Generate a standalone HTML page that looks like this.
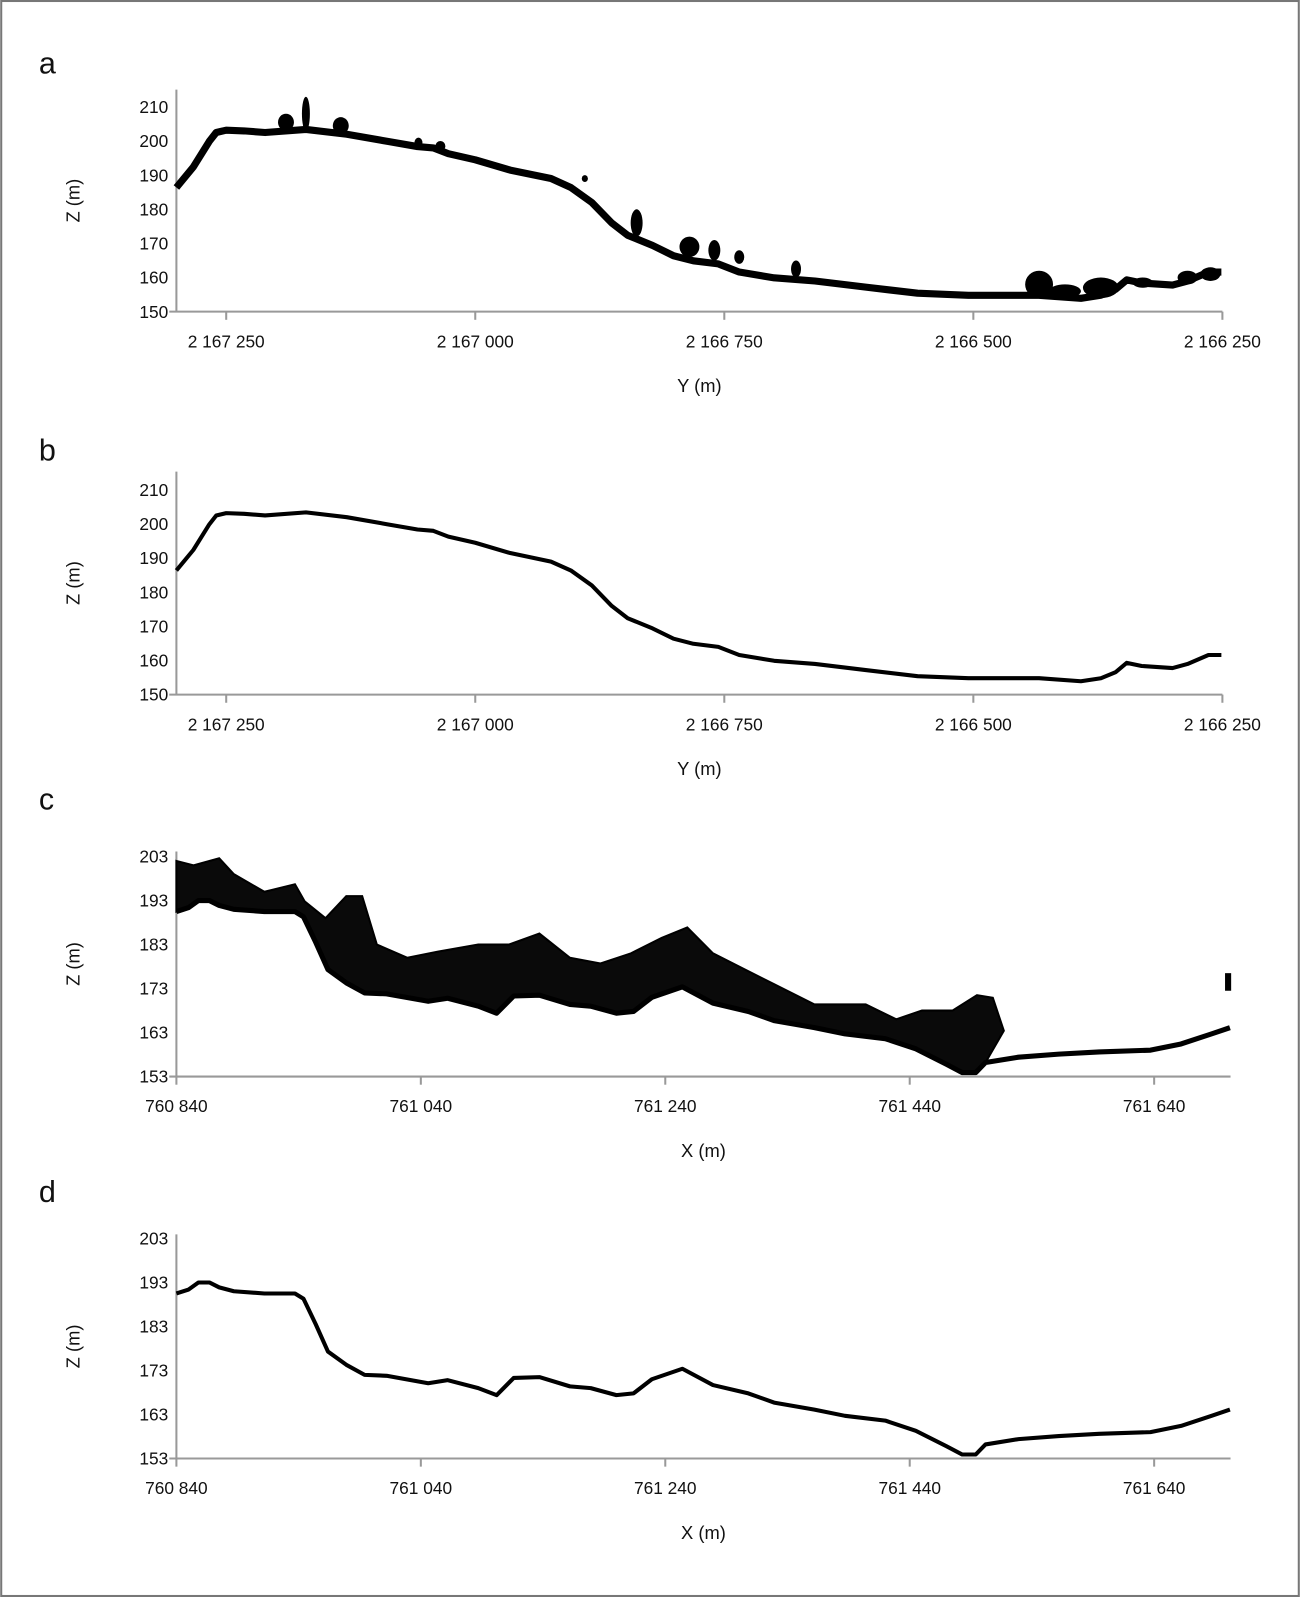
<!DOCTYPE html>
<html><head><meta charset="utf-8"><style>
html,body{margin:0;padding:0;background:#fff}
svg{display:block}
text{font-family:"Liberation Sans",sans-serif;fill:#111}
</style></head><body>
<svg id="fig" width="1300" height="1597" viewBox="0 0 1276 1568">
<rect x="1" y="1" width="1274" height="1566" fill="#fff" stroke="#777" stroke-width="2"/>
</svg>
<script>
// ---- data ----
const yTicksAB = [150,160,170,180,190,200,210];
const xTicksAB = [2167250,2167000,2166750,2166500,2166250];
const xTickLabelsAB = ["2 167 250","2 167 000","2 166 750","2 166 500","2 166 250"];
const yTicksCD = [153,163,173,183,193,203];
const xTicksCD = [760840,761040,761240,761440,761640];
const xTickLabelsCD = ["760 840","761 040","761 240","761 440","761 640"];

const profileY = [2167300,2167283,2167267,2167260,2167250,2167232,2167211,2167170,2167129,2167088,2167058,2167042,2167027,2167000,2166965,2166924,2166904,2166883,2166863,2166847,2166822,2166801,2166781,2166756,2166735,2166700,2166659,2166608,2166556,2166505,2166454,2166434,2166392,2166372,2166357,2166346,2166331,2166300,2166285,2166264,2166251];
const profileYZ = [186.4,192.4,199.9,202.5,203.2,203,202.5,203.4,202,199.9,198.4,198,196.3,194.5,191.5,189,186.4,182,176,172.4,169.4,166.4,164.9,164,161.6,159.9,159,157.2,155.4,154.8,154.8,154.8,153.9,154.8,156.6,159.3,158.4,157.8,159,161.6,161.6];

// vegetation clusters panel a: centre Y, z low, z high, half width (m)
const vegY = [2167190,2167170,2167135,2167057,2167035,2166890,2166838,2166785,2166760,2166735,2166678,2166434,2166408,2166372,2166330,2166285,2166262];
const vegZlo = [203,203,202,198,197,188,172,166,165,164,160,154,154,154,157,158,159];
const vegZhi = [208,213,207,201,200,190,180,172,171,168,165,162,158,160,160,162,163];
const vegW = [8,4,8,4,5,2,6,10,6,5,5,14,16,18,10,10,10];

const profileX = [760840,760850,760858,760867,760875,760887,760912,760937,760944,760954,760964,760979,760994,761012,761046,761062,761087,761102,761116,761137,761162,761179,761200,761214,761229,761254,761279,761308,761329,761362,761387,761420,761445,761470,761483,761494,761502,761529,761562,761595,761637,761662,761687,761702];
const profileXZ = [190.5,191.4,193,193,191.9,191,190.5,190.5,189.3,183.5,177.3,174.3,172,171.8,170.1,170.8,169,167.4,171.3,171.5,169.4,169,167.4,167.8,171,173.4,169.7,167.8,165.7,164.1,162.7,161.6,159.3,155.8,153.9,153.9,156.2,157.4,158.1,158.6,159,160.4,162.7,164.1];

const canopyX = [760840,760854,760875,760887,760912,760937,760945,760962,760979,760992,761004,761029,761054,761087,761112,761137,761162,761187,761212,761237,761258,761279,761304,761329,761362,761404,761429,761450,761475,761495,761508,761517];
const canopyZ = [202,201,202.6,199,195,196.7,192.8,189,194,194,183,180,181.4,183,183,185.5,180,178.7,181,184.5,186.9,181,177.5,174,169.4,169.4,166,168,168,171.5,170.9,163.4];

const NS='http://www.w3.org/2000/svg';
const svg=document.getElementById('fig');
function mk(tag,attrs,parent){const e=document.createElementNS(NS,tag);for(const k in attrs)e.setAttribute(k,attrs[k]);(parent||svg).appendChild(e);return e;}

function panel(cfg){
  const g=mk('g',{});
  
  
  const sx=v=>cfg.x0+(v-cfg.xmin)/(cfg.xmax-cfg.xmin)*(cfg.x1-cfg.x0);
  const sy=v=>cfg.yb+(v-cfg.zmin)/(cfg.zmax-cfg.zmin)*(cfg.yt-cfg.yb);
  const lab=mk('text',{x:38,y:cfg.labelY,'font-size':30},g);lab.textContent=cfg.id;
  
  
  const ya=mk('line',{x1:cfg.x0,y1:cfg.top,x2:cfg.x0,y2:cfg.yb,stroke:'#999','stroke-width':2},g);
  
  
  const xa=mk('line',{x1:cfg.x0-7,y1:cfg.yb,x2:cfg.x1,y2:cfg.yb,stroke:'#999','stroke-width':2},g);
  
  
  cfg.yt_ticks.forEach(v=>{const t=mk('text',{x:cfg.x0-8,y:sy(v)+6,'font-size':17,'text-anchor':'end'},g);t.textContent=v;
    
    });
  cfg.xt.forEach((v,i)=>{mk('line',{x1:sx(v),y1:cfg.yb,x2:sx(v),y2:cfg.yb+8,stroke:'#999','stroke-width':2},g);
    const t=mk('text',{x:sx(v),y:cfg.yb+35,'font-size':17,'text-anchor':'middle'},g);t.textContent=cfg.xl[i];
    
    });
  const yt=mk('text',{x:0,y:0,'font-size':18,'text-anchor':'middle',transform:`translate(${cfg.x0-95},${(cfg.top+cfg.yb)/2}) rotate(-90)`},g);yt.textContent='Z (m)';
  
  
  const xt=mk('text',{x:(cfg.x0+cfg.x1)/2,y:cfg.yb+79,'font-size':18,'text-anchor':'middle'},g);xt.textContent=cfg.xTitle;
  
  
  return {g,sx,sy};
}
function linePath(xs,zs,sx,sy){return xs.map((v,i)=>(i?'L':'M')+sx(v).toFixed(1)+','+sy(zs[i]).toFixed(1)).join(' ');}

// Panel a
let P=panel({id:'a',labelY:72,x0:173,x1:1200,top:88,yb:306,yt:105,zmin:150,zmax:210,xmin:2167300,xmax:2166250,yt_ticks:yTicksAB,xt:xTicksAB,xl:xTickLabelsAB,xTitle:'Y (m)'});
let e=mk('path',{d:linePath(profileY,profileYZ,P.sx,P.sy),fill:'none',stroke:'#000','stroke-width':7,'stroke-linejoin':'round'},P.g);


vegY.forEach((v,i)=>{
  const cx=P.sx(v), rx=Math.max(3,Math.abs(P.sx(v+vegW[i])-cx));
  const y1=P.sy(vegZhi[i]), y2=P.sy(vegZlo[i]);
  const el=mk('ellipse',{cx:cx,cy:(y1+y2)/2,rx:rx,ry:Math.max(3,(y2-y1)/2),fill:'#000'},P.g);
  
  
});

// Panel b
P=panel({id:'b',labelY:452,x0:173,x1:1200,top:463,yb:682,yt:481,zmin:150,zmax:210,xmin:2167300,xmax:2166250,yt_ticks:yTicksAB,xt:xTicksAB,xl:xTickLabelsAB,xTitle:'Y (m)'});
e=mk('path',{d:linePath(profileY,profileYZ,P.sx,P.sy),fill:'none',stroke:'#000','stroke-width':4,'stroke-linejoin':'round'},P.g);



// Panel c
P=panel({id:'c',labelY:795,x0:173,x1:1208,top:836,yb:1057,yt:841,zmin:153,zmax:203,xmin:760840,xmax:761702.5,yt_ticks:yTicksCD,xt:xTicksCD,xl:xTickLabelsCD,xTitle:'X (m)'});
{
  const lastX=canopyX[canopyX.length-1];
  let d=canopyX.map((v,i)=>(i?'L':'M')+P.sx(v).toFixed(1)+','+P.sy(canopyZ[i]).toFixed(1)).join(' ');
  for(let i=profileX.length-1;i>=0;i--){ if(profileX[i]<=lastX) d+=' L'+P.sx(profileX[i]).toFixed(1)+','+P.sy(profileXZ[i]).toFixed(1); }
  d+=' Z';
  e=mk('path',{d:d,fill:'#0a0a0a',stroke:'#000','stroke-width':2},P.g);
  
  
  e=mk('path',{d:linePath(profileX,profileXZ,P.sx,P.sy),fill:'none',stroke:'#000','stroke-width':5,'stroke-linejoin':'round'},P.g);
  
  
  e=mk('rect',{x:P.sx(761698),y:P.sy(176.5),width:6,height:P.sy(172.5)-P.sy(176.5),fill:'#000'},P.g);
  
  
}

// Panel d
P=panel({id:'d',labelY:1180,x0:173,x1:1208,top:1212,yb:1432,yt:1216,zmin:153,zmax:203,xmin:760840,xmax:761702.5,yt_ticks:yTicksCD,xt:xTicksCD,xl:xTickLabelsCD,xTitle:'X (m)'});
e=mk('path',{d:linePath(profileX,profileXZ,P.sx,P.sy),fill:'none',stroke:'#000','stroke-width':4,'stroke-linejoin':'round'},P.g);


</script>
</body></html>
